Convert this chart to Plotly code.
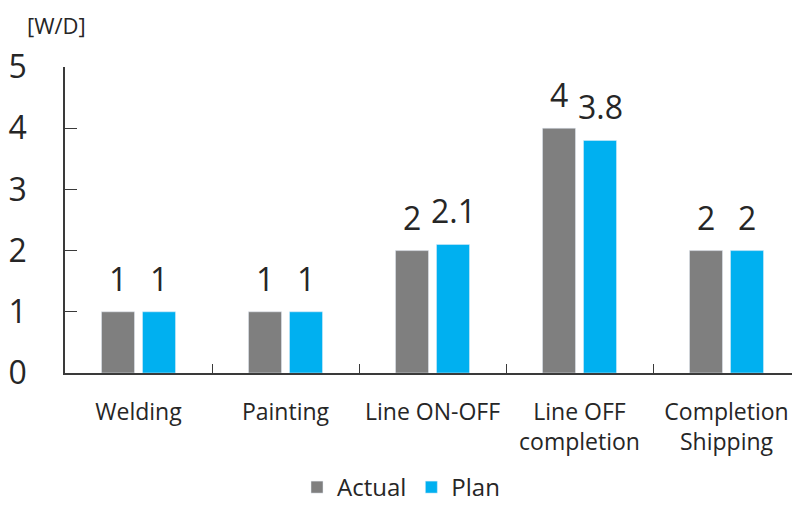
import plotly.graph_objects as go

categories = ["Welding", "Painting", "Line ON-OFF", "Line OFF<br>completion", "Completion<br>Shipping"]
actual = [1, 1, 2, 4, 2]
plan = [1, 1, 2.1, 3.8, 2]
y_ticks = [0, 1, 2, 3, 4, 5]

FONT = "Open Sans, Noto Sans, sans-serif"
TEXT = "#262626"
AXIS = "#3a3a3a"

CAT_PX = 147            # pixel width of one category
BARGAP = 0.442
SLOT_PX = CAT_PX * (1 - BARGAP) / 2

fig = go.Figure()
fig.add_trace(go.Bar(name="Actual", x=categories, y=actual, marker_color="#7F7F7F"))
fig.add_trace(go.Bar(name="Plan", x=categories, y=plan, marker_color="#00B0F0"))

# value labels above each bar
for values, side in ((actual, -1), (plan, 1)):
    for cat, v in zip(categories, values):
        fig.add_annotation(
            x=cat, y=v, text=f"{v:g}", showarrow=False,
            xanchor="center", yanchor="bottom",
            xshift=side * SLOT_PX / 2, yshift=10,
            font=dict(size=32, color=TEXT, family=FONT),
        )

fig.update_layout(
    width=792, height=510,
    margin=dict(l=65, r=0, t=67, b=137, autoexpand=False),
    plot_bgcolor="white", paper_bgcolor="white",
    barmode="group", bargap=BARGAP, bargroupgap=0.195,
    font=dict(family=FONT, color=TEXT),
    showlegend=True,
    legend=dict(orientation="h", x=297 / 792, xref="container", xanchor="left",
                y=0, yref="container", yanchor="bottom", borderwidth=0,
                font=dict(size=24, color=TEXT), traceorder="normal"),
)
fig.update_xaxes(
    range=[-0.5, -0.5 + 727 / CAT_PX], showline=True, linecolor=AXIS, linewidth=1.5,
    ticks="inside", tickson="boundaries", ticklen=9, tickcolor=AXIS,
    tickfont=dict(size=23, color=TEXT, family=FONT), showgrid=False,
    ticklabelstandoff=18,
)
fig.update_yaxes(
    range=[0, 5], tickvals=y_ticks, showline=True, linecolor=AXIS, linewidth=1.5,
    ticks="inside", ticklen=12, tickcolor=AXIS, showgrid=False, zeroline=False,
    tickfont=dict(size=32, color=TEXT, family=FONT), ticklabelstandoff=30,
)
fig.add_annotation(
    text="[W/D]", xref="paper", yref="paper", x=(56 - 65) / 727, y=1 + (67 - 25) / 306,
    xanchor="center", yanchor="middle", showarrow=False,
    font=dict(size=22, color=TEXT, family=FONT),
)

fig.write_html("out.html")
